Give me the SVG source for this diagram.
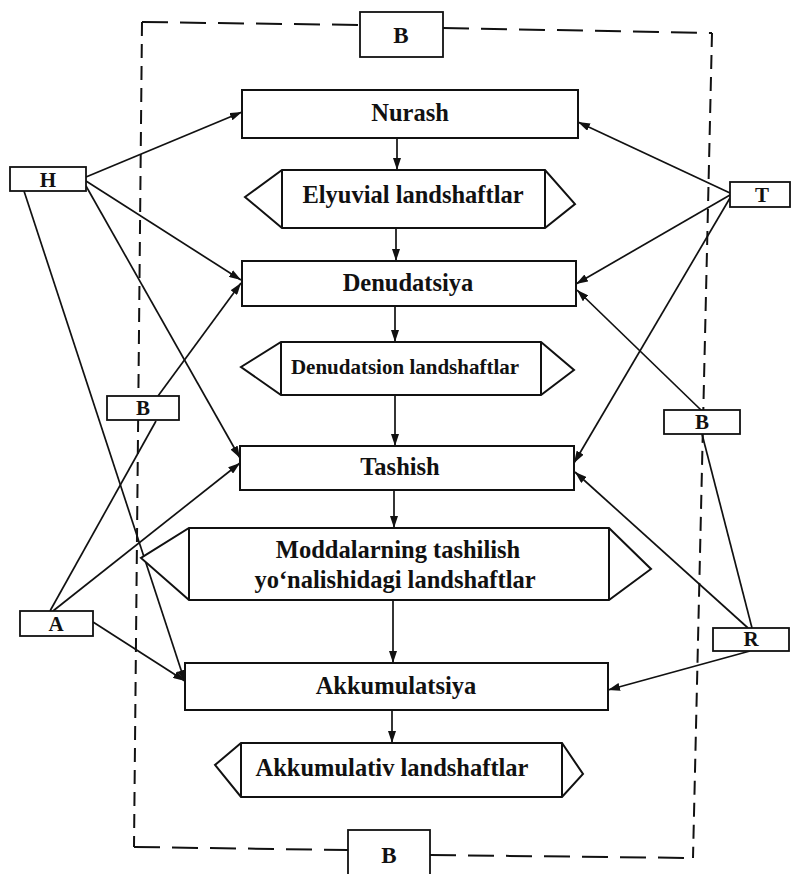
<svg xmlns="http://www.w3.org/2000/svg" width="795" height="874" viewBox="0 0 795 874">
<style>
.box{fill:#fff;stroke:#111;stroke-width:2}
.lbl{fill:#fff;stroke:#111;stroke-width:1.8}
.t{font-family:"Liberation Serif","Times New Roman",serif;font-weight:bold;fill:#111;text-anchor:middle}
.m{font-size:24.5px}
.s{font-size:21px}
.c{stroke:#111;stroke-width:1.7;fill:none}
.a{marker-end:url(#ah)}
.fr{stroke:#111;stroke-width:2;fill:none}
</style>
<defs>
<marker id="ah" viewBox="0 0 12 8" refX="12" refY="4" markerWidth="12" markerHeight="8" markerUnits="userSpaceOnUse" orient="auto">
<path d="M0,0 L12,4 L0,8 Z" fill="#111"/>
</marker>
</defs>
<rect width="795" height="874" fill="#fff"/>

<g id="frame">
<path class="fr" stroke-dasharray="26 12" d="M142,22 L360,25 M443,28 L712,33 M134,847 L348,850 M430,855 L693,858"/>
<path class="fr" stroke-dasharray="14 8" d="M142,22 L134,847 M712,33 L693,858"/>
</g>

<g id="connectors">
<line class="c a" x1="397" y1="138" x2="397" y2="170"/>
<line class="c a" x1="396" y1="228" x2="396" y2="261"/>
<line class="c a" x1="395" y1="306" x2="395" y2="342"/>
<line class="c a" x1="395" y1="395" x2="395" y2="446"/>
<line class="c a" x1="394" y1="490" x2="394" y2="528"/>
<line class="c a" x1="393" y1="600" x2="393" y2="663"/>
<line class="c a" x1="392" y1="710" x2="392" y2="743"/>

<line class="c a" x1="86" y1="177" x2="242" y2="112"/>
<line class="c a" x1="86" y1="181" x2="241" y2="280"/>
<line class="c a" x1="86" y1="186" x2="240" y2="458"/>
<line class="c a" x1="24" y1="191" x2="185" y2="682"/>
<line class="c a" x1="158" y1="396" x2="241" y2="283"/>
<line class="c" x1="50" y1="611" x2="156" y2="421"/>
<line class="c a" x1="53" y1="611" x2="240" y2="463"/>
<line class="c a" x1="93" y1="622" x2="185" y2="681"/>

<line class="c a" x1="730" y1="193" x2="578" y2="122"/>
<line class="c a" x1="730" y1="195" x2="576" y2="284"/>
<line class="c a" x1="730" y1="198" x2="574" y2="463"/>
<line class="c a" x1="701" y1="410" x2="577" y2="290"/>
<line class="c" x1="702" y1="434" x2="752" y2="628"/>
<line class="c a" x1="748" y1="628" x2="575" y2="472"/>
<line class="c a" x1="750" y1="651" x2="608" y2="690"/>
</g>

<g id="B-top"><rect class="lbl" x="360" y="12" width="83" height="45"/><text class="t" x="401" y="43" style="font-size:23px">B</text></g>
<g id="B-bottom"><rect class="lbl" x="348" y="830" width="82" height="50"/><text class="t" x="389" y="863" style="font-size:23px">B</text></g>

<g id="nurash"><rect class="box" x="242" y="90" width="336" height="48"/><text class="t m" x="410" y="121">Nurash</text></g>
<g id="elyuvial"><polygon class="box" points="282,170 545,170 575,204 545,228 282,228 245,197"/><line class="c" x1="282" y1="170" x2="282" y2="228" style="stroke-width:2"/><line class="c" x1="545" y1="170" x2="545" y2="228" style="stroke-width:2"/><text class="t m" x="413" y="203">Elyuvial landshaftlar</text></g>
<g id="denudatsiya"><rect class="box" x="242" y="261" width="334" height="45"/><text class="t m" x="408" y="291">Denudatsiya</text></g>
<g id="denudatsion"><polygon class="box" points="281,342 541,342 574,370 541,395 281,395 241,367"/><line class="c" x1="281" y1="342" x2="281" y2="395" style="stroke-width:2"/><line class="c" x1="541" y1="342" x2="541" y2="395" style="stroke-width:2"/><text class="t" x="405" y="374" style="font-size:21px">Denudatsion landshaftlar</text></g>
<g id="tashish"><rect class="box" x="240" y="446" width="334" height="44"/><text class="t m" x="400" y="475">Tashish</text></g>
<g id="moddalarning"><polygon class="box" points="189,528 609,528 651,569 609,600 189,600 141,558"/><line class="c" x1="189" y1="528" x2="189" y2="600" style="stroke-width:2"/><line class="c" x1="609" y1="528" x2="609" y2="600" style="stroke-width:2"/><text class="t m" x="398" y="558">Moddalarning tashilish</text><text class="t m" x="395" y="588">yo‘nalishidagi landshaftlar</text></g>
<g id="akkumulatsiya"><rect class="box" x="185" y="663" width="423" height="47"/><text class="t m" x="396" y="694">Akkumulatsiya</text></g>
<g id="akkumulativ"><polygon class="box" points="241,743 562,743 583,774 562,797 241,797 215,765"/><line class="c" x1="241" y1="743" x2="241" y2="797" style="stroke-width:2"/><line class="c" x1="562" y1="743" x2="562" y2="797" style="stroke-width:2"/><text class="t m" x="392" y="776">Akkumulativ landshaftlar</text></g>

<g id="H"><rect class="lbl" x="10" y="167" width="76" height="24"/><text class="t s" x="48" y="187">H</text></g>
<g id="B-left"><rect class="lbl" x="107" y="396" width="72" height="24"/><text class="t s" x="143" y="415">B</text></g>
<g id="A"><rect class="lbl" x="20" y="611" width="73" height="25"/><text class="t s" x="56" y="631">A</text></g>
<g id="T"><rect class="lbl" x="730" y="182" width="60" height="25"/><text class="t s" x="762" y="202">T</text></g>
<g id="B-right"><rect class="lbl" x="664" y="410" width="76" height="24"/><text class="t s" x="702" y="429">B</text></g>
<g id="R"><rect class="lbl" x="713" y="628" width="76" height="23"/><text class="t s" x="751" y="646">R</text></g>
</svg>
